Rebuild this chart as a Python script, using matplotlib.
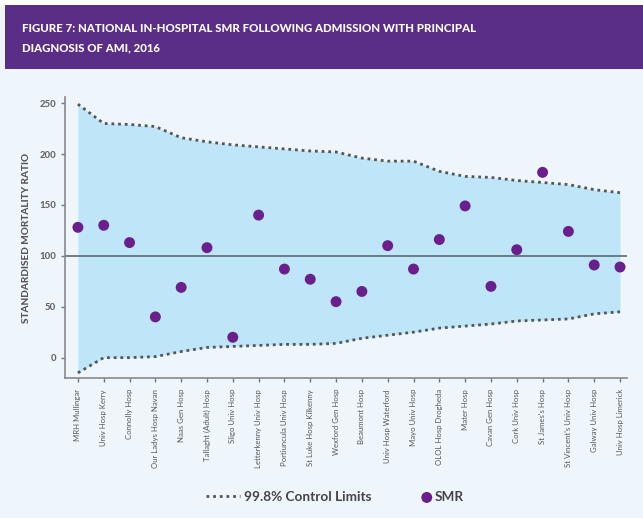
import matplotlib
matplotlib.use("Agg")
import matplotlib.pyplot as plt
from matplotlib.patches import Rectangle
import numpy as np

hospitals = ["MRH Mullingar", "Univ Hosp Kerry", "Connolly Hosp", "Our Ladys Hosp Navan",
             "Naas Gen Hosp", "Tallaght (Adult) Hosp", "Sligo Univ Hosp", "Letterkenny Univ Hosp",
             "Portiuncula Univ Hosp", "St Luke Hosp Kilkenny", "Wexford Gen Hosp", "Beaumont Hosp",
             "Univ Hosp Waterford", "Mayo Univ Hosp", "OLOL Hosp Drogheda", "Mater Hosp",
             "Cavan Gen Hosp", "Cork Univ Hosp", "St James's Hosp", "St Vincent's Univ Hosp",
             "Galway Univ Hosp", "Univ Hosp Limerick"]
smr = [128, 130, 113, 40, 69, 108, 20, 140, 87, 77, 55, 65, 110, 87, 116, 149, 70, 106, 182, 124, 91, 89]
upper = [249, 230, 229, 227, 216, 212, 209, 207, 205, 203, 202, 196, 193, 193, 183, 178, 177, 174, 172, 170, 165, 162]
lower = [-15, 0, 0, 1, 6, 10, 11, 12, 13, 13, 14, 19, 22, 25, 29, 31, 33, 36, 37, 38, 43, 45]
yticks = [0, 50, 100, 150, 200, 250]
title = "FIGURE 7: NATIONAL IN-HOSPITAL SMR FOLLOWING ADMISSION WITH PRINCIPAL\nDIAGNOSIS OF AMI, 2016"

plt.rcParams["font.family"] = ["Lato", "DejaVu Sans"]

BG = "#EEF6FC"
FILL = "#BEE6F8"
PURPLE = "#5A2D86"
DOT = "#6B1F8C"
GRAY = "#555555"

fig = plt.figure(figsize=(6.43, 5.18), dpi=100)
fig.patch.set_facecolor("white")
fig.add_artist(Rectangle((0, 0), 1, 1 - 5/518, transform=fig.transFigure, facecolor=BG, edgecolor="none", zorder=-2))
fig.add_artist(Rectangle((5/643, 1 - 69/518), 1, 64/518, transform=fig.transFigure, facecolor=PURPLE, edgecolor="none", zorder=-1))
fig.text(22/643, 1 - 38/518, title, color="white", fontsize=8.2, fontweight="black",
         va="center", ha="left", linespacing=1.9)

ax = fig.add_axes([65/643, 1 - 378/518, (627 - 65)/643, (378 - 97)/518])
ax.set_facecolor("none")
x = np.arange(len(hospitals))
ax.fill_between(x, lower, upper, color=FILL, linewidth=0, zorder=1)
lim_line, = ax.plot(x, upper, color=GRAY, linestyle=(0, (1, 1.4)), linewidth=2, zorder=2,
                    label="99.8% Control Limits")
ax.plot(x, lower, color=GRAY, linestyle=(0, (1, 1.4)), linewidth=2, zorder=2)
ax.axhline(100, color="#5a6a70", linewidth=1.2, zorder=2)
pts = ax.scatter(x, smr, s=62, color=DOT, zorder=3, label="SMR", edgecolors="none")

ax.set_xlim(-0.5, len(hospitals) - 1 + 0.27)
ax.set_ylim(-20, 256)
ax.set_yticks(yticks)
ax.set_yticklabels([str(v) for v in yticks], fontsize=6.8, fontweight="black", color="#666666")
ax.set_xticks(x)
ax.set_xticklabels(hospitals, rotation=90, fontsize=5.6, color="#555555")
ax.tick_params(axis="both", direction="out", length=3, color="#777777", width=1)
ax.tick_params(axis="x", pad=5)
for s in ["top", "right"]:
    ax.spines[s].set_visible(False)
for s in ["left", "bottom"]:
    ax.spines[s].set_color("#888888")
    ax.spines[s].set_linewidth(1.2)
ax.set_ylabel("STANDARDISED MORTALITY RATIO", fontsize=7.2, fontweight="black", color="#555555",
              labelpad=6)

leg1 = fig.legend(handles=[lim_line], loc="center", bbox_to_anchor=(289/643, 1 - 497/518),
                  frameon=False, fontsize=9.8, handlelength=2.5, handletextpad=0.3)
leg2 = fig.legend(handles=[pts], loc="center", bbox_to_anchor=(442/643, 1 - 497/518),
                  frameon=False, fontsize=9.8, handlelength=0.9, handletextpad=0.1)
for leg in (leg1, leg2):
    for t in leg.get_texts():
        t.set_color("#444444")
        t.set_fontweight("bold")

fig.savefig("out.png", dpi=100, facecolor=fig.get_facecolor())
